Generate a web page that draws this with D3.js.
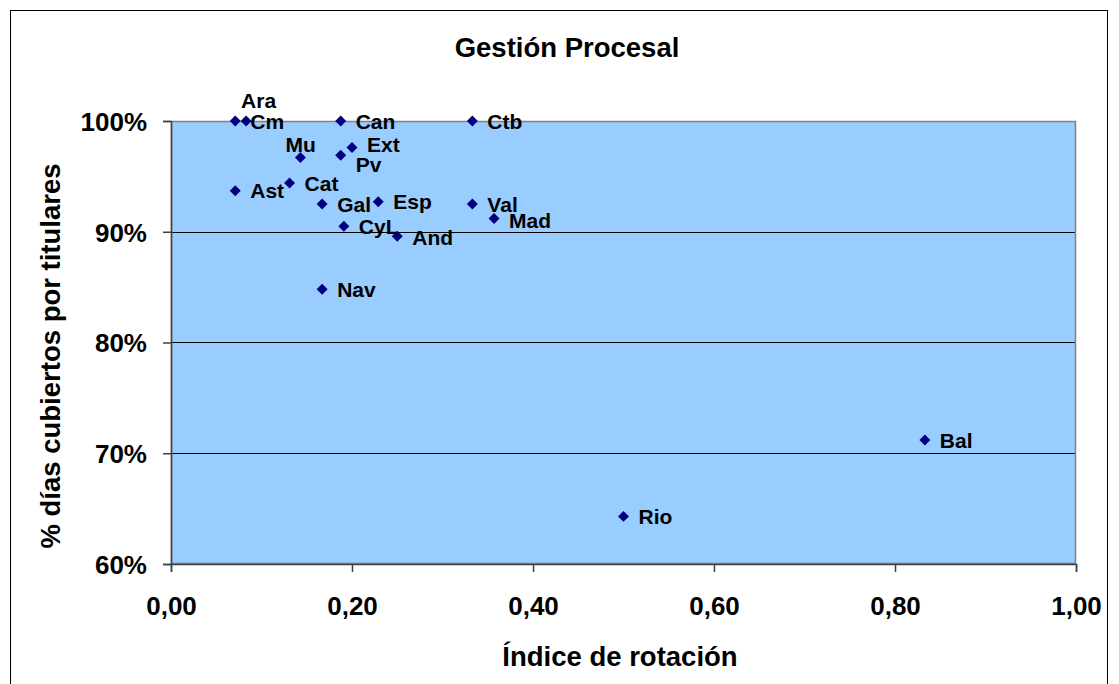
<!DOCTYPE html>
<html><head><meta charset="utf-8">
<script src="https://cdn.jsdelivr.net/npm/d3@7/dist/d3.min.js"></script>
<style>body{margin:0;background:#fff;}svg{display:block;font-family:Arial,"Liberation Sans",sans-serif;}</style>
</head><body>
<svg id="c" width="1119" height="684"></svg>
<script>
const regions = ["Ara","Cm","Can","Ctb","Mu","Ext","Pv","Ast","Cat","Gal","Esp","Val","Mad","CyL","And","Nav","Bal","Rio"];
const rotation = [0.083,0.071,0.1875,0.333,0.143,0.200,0.1875,0.071,0.131,0.167,0.229,0.333,0.357,0.191,0.250,0.167,0.833,0.500];
const coverage = [1.000,1.000,1.000,1.000,0.967,0.976,0.969,0.937,0.944,0.925,0.927,0.925,0.912,0.905,0.896,0.848,0.712,0.643];
const xTicks = [0,0.2,0.4,0.6,0.8,1.0];
const yTicks = [0.6,0.7,0.8,0.9,1.0];

const svg = d3.select("#c");
const L = 171, R = 1076, T = 121, B = 564;
const x = d3.scaleLinear().domain([0,1]).range([L,R]);
const y = d3.scaleLinear().domain([0.6,1]).range([B,T]);

svg.append("rect").attr("x",10.5).attr("y",10.5).attr("width",1097).attr("height",690)
  .attr("fill","#fff").attr("stroke","#000").attr("stroke-width",1);

svg.append("text").attr("x",567).attr("y",57).attr("text-anchor","middle")
  .attr("font-size",27.5).attr("font-weight","bold").text("Gestión Procesal");

svg.append("rect").attr("x",L).attr("y",T).attr("width",R-L).attr("height",B-T).attr("fill","#99CCFF");

svg.append("g").selectAll("line").data(yTicks.filter(d=>d>0.6 && d<1)).join("line")
  .attr("x1",L).attr("x2",R).attr("y1",d=>Math.round(y(d))+0.5).attr("y2",d=>Math.round(y(d))+0.5)
  .attr("stroke","#000").attr("stroke-width",1);

svg.append("rect").attr("x",L+0.5).attr("y",T+0.5).attr("width",R-L-1).attr("height",B-T-1)
  .attr("fill","none").attr("stroke","#808080").attr("stroke-width",1.5);

const fmtX = d => d3.format(".2f")(d).replace(".",",");
const xAxis = svg.append("g").attr("transform",`translate(0,${B})`)
  .call(d3.axisBottom(x).tickValues(xTicks).tickFormat(fmtX).tickSize(8).tickPadding(25));
const yAxis = svg.append("g").attr("transform",`translate(${L},0)`)
  .call(d3.axisLeft(y).tickValues(yTicks).tickFormat(d3.format(".0%")).tickSize(8).tickPadding(16));
[xAxis,yAxis].forEach(g=>{
  g.select(".domain").attr("stroke","#404040").attr("stroke-width",1.5);
  g.selectAll(".tick line").attr("stroke","#404040").attr("stroke-width",1.5);
  g.selectAll(".tick text").attr("font-size",26).attr("font-weight","bold").attr("fill","#000")
   .attr("font-family","Arial, 'Liberation Sans', sans-serif");
});
yAxis.selectAll(".tick text").attr("dy","0.36em");

svg.append("text").attr("x",620).attr("y",666).attr("text-anchor","middle")
  .attr("font-size",27.5).attr("font-weight","bold").text("Índice de rotación");
svg.append("text").attr("transform","translate(60,356) rotate(-90)").attr("text-anchor","middle")
  .attr("font-size",27.5).attr("font-weight","bold").text("% días cubiertos por titulares");

const pts = regions.map((r,i)=>({r, xv: rotation[i], yv: coverage[i]}));
svg.append("g").selectAll("path").data(pts).join("path")
  .attr("d",d3.symbol().type(d3.symbolSquare).size(60))
  .attr("transform",d=>`translate(${x(d.xv)},${y(d.yv)}) rotate(45)`)
  .attr("fill","#000080");

const labelShift = {Ara:[-20,-21], Mu:[-30,-13], Ext:[0,-3], Pv:[0,9], Mad:[0,1.5], And:[0,1]};
svg.append("g").selectAll("text").data(pts).join("text")
  .attr("x",d=>x(d.xv)+15+(labelShift[d.r]?labelShift[d.r][0]:0))
  .attr("y",d=>y(d.yv)+(labelShift[d.r]?labelShift[d.r][1]:0))
  .attr("dy","0.36em").attr("font-size",21).attr("font-weight","bold").attr("fill","#000")
  .text(d=>d.r);
</script>
</body></html>
